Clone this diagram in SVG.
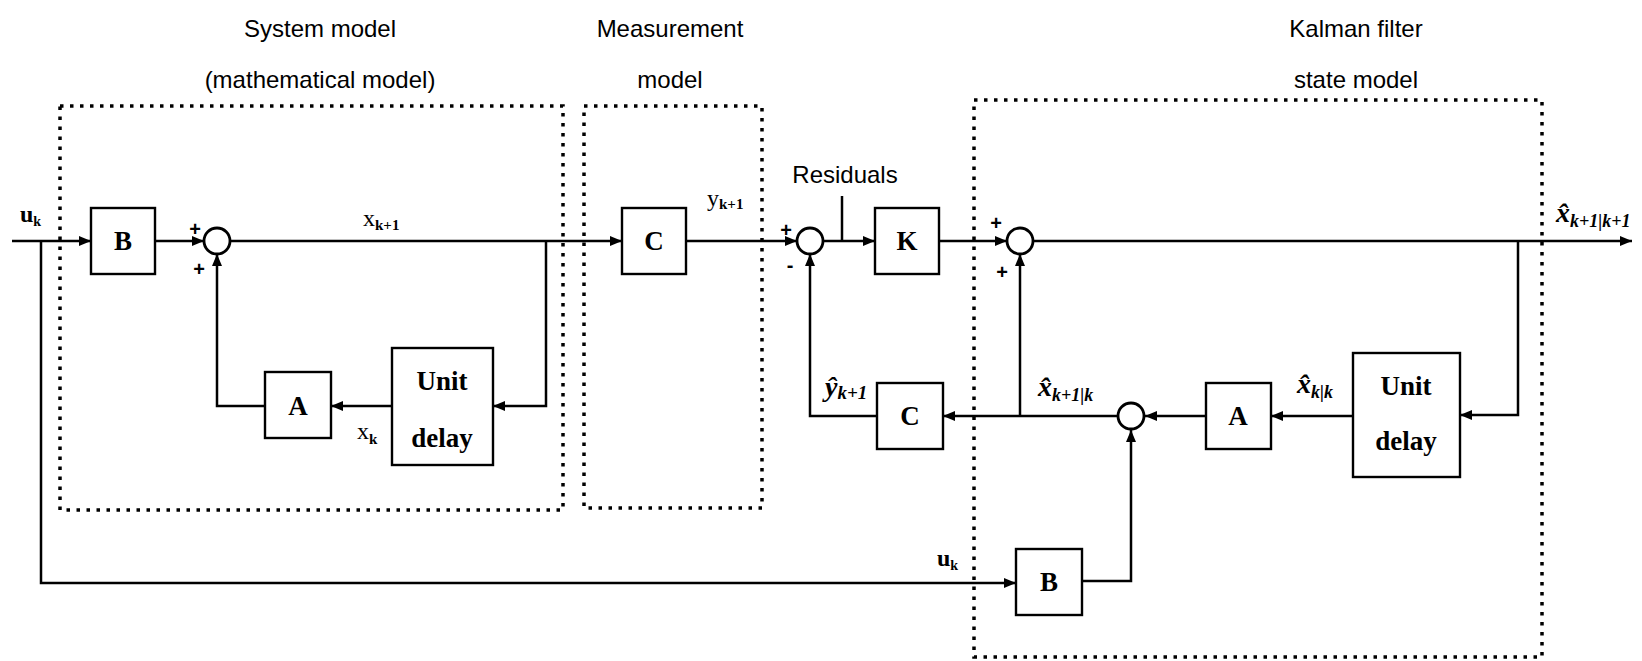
<svg xmlns="http://www.w3.org/2000/svg" width="1642" height="661" viewBox="0 0 1642 661">
<defs>
<marker id="ah" markerUnits="userSpaceOnUse" markerWidth="12" markerHeight="10" refX="12" refY="5" orient="auto"><path d="M0,0 L12,5 L0,10 z" fill="#000"/></marker>
</defs>
<style>
.t{font-family:"Liberation Sans",Arial,sans-serif;font-size:24px;fill:#000;text-anchor:middle}
.blk{fill:#fff;stroke:#000;stroke-width:2.4}
.bl{font-family:"Liberation Serif","Times New Roman",serif;font-size:27px;font-weight:bold;fill:#000;text-anchor:middle}
.dot{fill:none;stroke:#000;stroke-width:3.5;stroke-dasharray:3.5 6.5}
.w{fill:none;stroke:#000;stroke-width:2.5}
.ar{marker-end:url(#ah)}
.sum{fill:#fff;stroke:#000;stroke-width:2.8}
.lb{font-family:"Liberation Serif","Times New Roman",serif;fill:#000;font-size:24px}
.hat{font-style:italic;font-weight:bold;font-size:28px}
.sg{font-family:"Liberation Sans",Arial,sans-serif;font-size:20px;font-weight:bold;text-anchor:middle;fill:#000}
</style>
<rect width="1642" height="661" fill="#fff"/>

<g id="titles">
<text class="t" x="320" y="37">System model</text>
<text class="t" x="320" y="88">(mathematical model)</text>
<text class="t" x="670" y="37">Measurement</text>
<text class="t" x="670" y="88">model</text>
<text class="t" x="1356" y="37">Kalman filter</text>
<text class="t" x="1356" y="88">state model</text>
</g>

<g id="regions">
<rect class="dot" x="60" y="106" width="503" height="404"/>
<rect class="dot" x="584" y="106" width="178" height="402"/>
<rect class="dot" x="974" y="100" width="568" height="557"/>
</g>

<g id="connectors">
<path class="w ar" d="M12,241 H91"/>
<path class="w ar" d="M41,241 V583 H1016"/>
<path class="w ar" d="M155,241 H204"/>
<path class="w ar" d="M230,241 H622"/>
<path class="w ar" d="M546,241 V406 H493"/>
<path class="w ar" d="M392,406 H331"/>
<path class="w ar" d="M265,406 H217 V254"/>
<path class="w ar" d="M686,241 H797"/>
<path class="w ar" d="M823,241 H875"/>
<path class="w" d="M842,196 V241"/>
<path class="w ar" d="M939,241 H1007"/>
<path class="w ar" d="M1033,241 H1632"/>
<path class="w ar" d="M1518,241 V415 H1460"/>
<path class="w ar" d="M1353,416 H1271"/>
<path class="w ar" d="M1206,416 H1145"/>
<path class="w ar" d="M1118,416 H943"/>
<path class="w ar" d="M1020,416 V254"/>
<path class="w ar" d="M877,416 H810 V254"/>
<path class="w ar" d="M1082,581 H1131 V430"/>
</g>

<g id="B1"><rect class="blk" x="91" y="208" width="64" height="66"/><text class="bl" x="123" y="250">B</text></g>
<g id="sum1"><circle class="sum" cx="217" cy="241" r="13"/><text class="sg" x="195" y="236">+</text><text class="sg" x="199" y="276">+</text></g>
<g id="A1"><rect class="blk" x="265" y="372" width="66" height="66"/><text class="bl" x="298" y="415">A</text></g>
<g id="UD1"><rect class="blk" x="392" y="348" width="101" height="117"/><text class="bl" x="442" y="390">Unit</text><text class="bl" x="442" y="447">delay</text></g>
<g id="C1"><rect class="blk" x="622" y="208" width="64" height="66"/><text class="bl" x="654" y="250">C</text></g>
<g id="sum2"><circle class="sum" cx="810" cy="241" r="13"/><text class="sg" x="786" y="237">+</text><text class="sg" x="790" y="272">-</text></g>
<g id="K"><rect class="blk" x="875" y="208" width="64" height="66"/><text class="bl" x="907" y="250">K</text></g>
<g id="sum3"><circle class="sum" cx="1020" cy="241" r="13"/><text class="sg" x="996" y="230">+</text><text class="sg" x="1002" y="279">+</text></g>
<g id="C2"><rect class="blk" x="877" y="383" width="66" height="66"/><text class="bl" x="910" y="425">C</text></g>
<g id="sum4"><circle class="sum" cx="1131" cy="416" r="13"/></g>
<g id="A2"><rect class="blk" x="1206" y="383" width="65" height="66"/><text class="bl" x="1238" y="425">A</text></g>
<g id="UD2"><rect class="blk" x="1353" y="353" width="107" height="124"/><text class="bl" x="1406" y="395">Unit</text><text class="bl" x="1406" y="450">delay</text></g>
<g id="B2"><rect class="blk" x="1016" y="549" width="66" height="66"/><text class="bl" x="1049" y="591">B</text></g>

<g id="labels">
<text class="lb" x="20" y="222" font-weight="bold">u<tspan font-size="14" dy="4">k</tspan></text>
<text class="lb" x="363" y="226">x<tspan font-size="15" font-weight="bold" dy="4">k+1</tspan></text>
<text class="lb" x="357" y="439">x<tspan font-size="15" font-weight="bold" dy="5">k</tspan></text>
<text class="lb" x="707" y="206">y<tspan font-size="15" font-weight="bold" dy="3">k+1</tspan></text>
<text class="t" x="845" y="183">Residuals</text>
<text class="lb hat" x="825" y="396">y&#x302;<tspan font-size="19" dy="3">k+1</tspan></text>
<text class="lb hat" x="1038" y="396">x&#x302;<tspan font-size="18" dy="5">k+1|k</tspan></text>
<text class="lb hat" x="1297" y="393">x&#x302;<tspan font-size="18" dy="5">k|k</tspan></text>
<text class="lb hat" x="1556" y="222">x&#x302;<tspan font-size="18" dy="5">k+1|k+1</tspan></text>
<text class="lb" x="937" y="566" font-weight="bold">u<tspan font-size="14" dy="4">k</tspan></text>
</g>
</svg>
